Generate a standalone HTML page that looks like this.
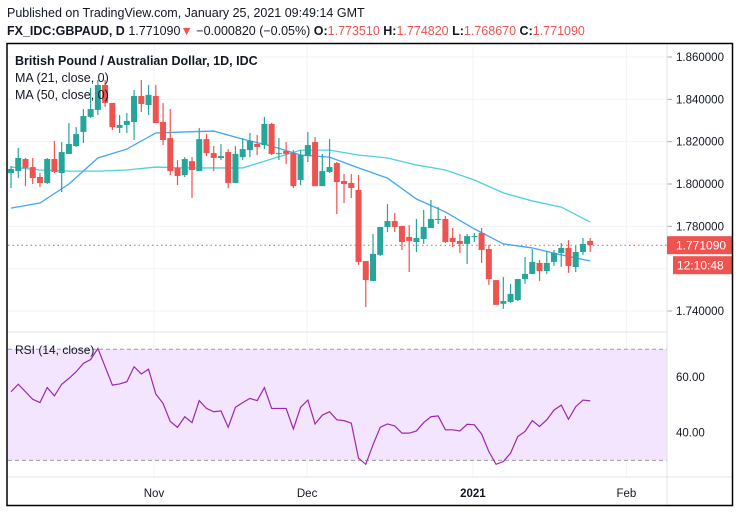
<!DOCTYPE html>
<html><head><meta charset="utf-8"><style>
html,body{margin:0;padding:0;background:#fff;}
body{width:739px;height:513px;overflow:hidden;font-family:"Liberation Sans",sans-serif;}
</style></head><body>
<svg id="chart" width="739" height="513" xmlns="http://www.w3.org/2000/svg" font-family="Liberation Sans, sans-serif">
<text x="7" y="17" font-size="12.5" fill="#131722">Published on TradingView.com, January 25, 2021 09:49:14 GMT</text>
<text x="7" y="35" font-size="12.5" fill="#131722"><tspan font-weight="bold">FX_IDC:GBPAUD, D</tspan> 1.771090<tspan fill="#ef5350">▼</tspan> −0.000820 (−0.05%) <tspan font-weight="bold">O:</tspan><tspan fill="#ef5350">1.773510</tspan> <tspan font-weight="bold">H:</tspan><tspan fill="#ef5350">1.774820</tspan> <tspan font-weight="bold">L:</tspan><tspan fill="#ef5350">1.768670</tspan> <tspan font-weight="bold">C:</tspan><tspan fill="#ef5350">1.771090</tspan></text>
<g id="grid"></g>
<rect id="rsiband" x="8" width="659" fill="#f3e5fd"/>
<g id="marks"></g>
<g id="axes"></g>
<text x="15" y="65" font-size="12.5" font-weight="bold" fill="#131722">British Pound / Australian Dollar, 1D, IDC</text>
<text x="15" y="82" font-size="12.5" fill="#131722">MA (21, close, 0)</text>
<text x="15" y="99" font-size="12.5" fill="#131722">MA (50, close, 0)</text>
<text x="15" y="354" font-size="12" fill="#131722">RSI (14, close)</text>
<rect x="7" y="43.5" width="725.5" height="462" fill="none" stroke="#000" stroke-width="1.5"/>
</svg>
<script>
const opens=[1.8052,1.8061,1.8118,1.8080,1.8033,1.8005,1.8118,1.8052,1.8142,1.8179,1.8246,1.8317,1.8350,1.8468,1.8383,1.8265,1.8279,1.8293,1.8416,1.8373,1.8416,1.8293,1.8217,1.8076,1.8042,1.8108,1.8061,1.8212,1.8146,1.8123,1.8151,1.8005,1.8127,1.8160,1.8189,1.8184,1.8284,1.8142,1.8156,1.8146,1.8019,1.8132,1.8198,1.7990,1.8057,1.8099,1.8014,1.8005,1.7972,1.7636,1.7542,1.7665,1.7797,1.7825,1.7802,1.7750,1.7726,1.7740,1.7792,1.7830,1.7835,1.7745,1.7731,1.7717,1.7750,1.7769,1.7693,1.7546,1.7434,1.7443,1.7452,1.7551,1.7575,1.7627,1.7589,1.7632,1.7674,1.7698,1.7608,1.7679,1.7731];
const highs=[1.8085,1.8170,1.8123,1.8123,1.8052,1.8123,1.8203,1.8198,1.8288,1.8269,1.8354,1.8454,1.8491,1.8491,1.8383,1.8326,1.8335,1.8444,1.8491,1.8468,1.8468,1.8383,1.8354,1.8113,1.8127,1.8127,1.8265,1.8236,1.8179,1.8189,1.8165,1.8179,1.8217,1.8241,1.8231,1.8317,1.8288,1.8217,1.8198,1.8160,1.8160,1.8246,1.8222,1.8142,1.8212,1.8104,1.8047,1.8047,1.8042,1.7636,1.7764,1.7797,1.7905,1.7863,1.7802,1.7806,1.7835,1.7877,1.7925,1.7891,1.7849,1.7792,1.7764,1.7764,1.7769,1.7792,1.7712,1.7546,1.7561,1.7528,1.7551,1.7655,1.7693,1.7641,1.7684,1.7688,1.7721,1.7735,1.7707,1.7745,1.7745];
const lows=[1.7981,1.8028,1.7990,1.8000,1.7986,1.8000,1.8052,1.7962,1.8142,1.8175,1.8194,1.8312,1.8326,1.8364,1.8255,1.8241,1.8241,1.8208,1.8340,1.8326,1.8288,1.8184,1.8042,1.7995,1.8033,1.7934,1.8061,1.8132,1.8061,1.8113,1.7981,1.8005,1.8113,1.8127,1.8137,1.8165,1.8137,1.8113,1.8094,1.7981,1.7995,1.8104,1.7990,1.7990,1.8052,1.7858,1.7910,1.7934,1.7618,1.7419,1.7542,1.7660,1.7773,1.7773,1.7688,1.7584,1.7679,1.7717,1.7792,1.7811,1.7721,1.7702,1.7674,1.7622,1.7726,1.7627,1.7523,1.7429,1.7410,1.7438,1.7447,1.7528,1.7575,1.7542,1.7575,1.7613,1.7608,1.7580,1.7584,1.7665,1.7679];
const closes=[1.8071,1.8123,1.8076,1.8028,1.8005,1.8118,1.8057,1.8151,1.8189,1.8236,1.8321,1.8354,1.8468,1.8383,1.8269,1.8279,1.8298,1.8416,1.8378,1.8421,1.8288,1.8208,1.8061,1.8038,1.8118,1.8066,1.8212,1.8146,1.8123,1.8132,1.8005,1.8142,1.8165,1.8203,1.8175,1.8284,1.8142,1.8146,1.8142,1.7990,1.8137,1.8184,1.7990,1.8061,1.8080,1.8009,1.8000,1.7981,1.7632,1.7546,1.7670,1.7797,1.7825,1.7797,1.7726,1.7731,1.7745,1.7797,1.7835,1.7835,1.7726,1.7726,1.7717,1.7754,1.7754,1.7688,1.7551,1.7429,1.7447,1.7481,1.7551,1.7575,1.7632,1.7589,1.7627,1.7674,1.7698,1.7613,1.7679,1.7717,1.7711];
const maIndex=[0,4,8,12,16,20,24,28,32,36,40,44,48,52,56,60,64,68,72,76,80];
const ma21=[1.7886,1.7910,1.8000,1.8123,1.8165,1.8241,1.8246,1.8250,1.8212,1.8179,1.8137,1.8127,1.8076,1.8028,1.7929,1.7868,1.7788,1.7717,1.7698,1.7665,1.7636];
const ma50=[1.8080,1.8066,1.8061,1.8061,1.8066,1.8080,1.8076,1.8076,1.8076,1.8118,1.8160,1.8160,1.8137,1.8123,1.8090,1.8066,1.8019,1.7958,1.7920,1.7891,1.7820];
const rsi=[54.7,57.4,54.7,52.0,50.8,56.2,53.2,57.4,59.5,61.9,64.9,66.3,70.3,63.7,57.1,57.5,58.3,63.7,61.1,62.8,53.9,50.5,44.0,41.9,45.7,43.6,51.5,48.7,47.5,47.8,41.9,49.1,50.8,52.3,51.5,56.2,48.7,48.7,48.7,41.3,49.1,51.7,43.1,46.3,47.5,44.6,44.3,43.4,30.8,28.6,35.6,41.9,43.1,42.4,39.8,39.8,40.6,43.6,45.7,46.0,41.0,41.0,40.6,43.0,42.8,39.5,33.2,28.6,29.6,32.6,38.6,40.4,44.3,42.2,44.6,48.1,49.9,44.8,49.3,51.7,51.4];
const priceTicks=["1.860000","1.840000","1.820000","1.800000","1.780000","1.740000"];
const rsiTicks=["60.00","40.00"];
const timeLabels=["Nov","Dec","2021","Feb"];
const timeIdx=[19.75,40.9,63.8,85.0];
const lastPrice="1.771090";
const countdown="12:10:48";

const NS="http://www.w3.org/2000/svg";
const X0=11, DX=7.24;
function xAt(i){return X0+i*DX;}
function yP(p){return 57+(1.86-p)*2116.7;}
function yR(r){return 377+(60-r)*2.78;}
function mk(tag,attrs,parent){const e=document.createElementNS(NS,tag);for(const k in attrs)e.setAttribute(k,attrs[k]);parent.appendChild(e);return e;}
const grid=document.getElementById('grid'),marks=document.getElementById('marks'),axes=document.getElementById('axes');
// price grid + labels
priceTicks.forEach(t=>{const y=yP(parseFloat(t));
 const l=mk('line',{x1:8,x2:667,y1:y,y2:y,stroke:'#f0f3fa','stroke-width':1},grid);
 
 const k=mk('line',{x1:667,x2:672,y1:y,y2:y,stroke:'#aaa'},axes);
 
 const tx=mk('text',{x:676,y:y+4,'font-size':11.5,fill:'#131722'},axes);tx.textContent=t;
 });
[1.76].forEach(p=>{const y=yP(p);const l=mk('line',{x1:8,x2:667,y1:y,y2:y,stroke:'#f0f3fa'},grid);
 });
// rsi band
const rb=document.getElementById('rsiband');rb.setAttribute('y',yR(70));rb.setAttribute('height',yR(30)-yR(70));
rsiTicks.forEach(t=>{const y=yR(parseFloat(t));
 const l=mk('line',{x1:8,x2:667,y1:y,y2:y,stroke:'#e6dcef'},grid);
 
 const tx=mk('text',{x:676,y:y+4,'font-size':11.5,fill:'#131722'},axes);tx.textContent=t;
 });
[70,30].forEach(v=>{const y=yR(v);const l=mk('line',{x1:8,x2:667,y1:y,y2:y,stroke:'#9e9e9e','stroke-dasharray':'4,3'},marks);
 });
// vertical grid + time labels
timeLabels.forEach((t,j)=>{const x=xAt(timeIdx[j]);
 const l=mk('line',{x1:x,x2:x,y1:44,y2:477,stroke:'#f0f3fa'},grid);
 
 const tx=mk('text',{x:x,y:497,'font-size':11.5,'text-anchor':'middle',fill:'#131722','font-weight':t==='2021'?'bold':'normal'},axes);tx.textContent=t;
 });
// separators
[[8,667,332,332],[8,733,477,477],[667,667,44,505]].forEach(s=>{const l=mk('line',{x1:s[0],x2:s[1],y1:s[2],y2:s[3],stroke:'#e0e3eb'},axes);
 });
// last price dotted line
const lp=mk('line',{x1:8,x2:667,y1:yP(parseFloat(lastPrice)),y2:yP(parseFloat(lastPrice)),stroke:'#ef5350','stroke-dasharray':'1.5,3'},marks);

// MAs
function poly(idx,vals,color,name){const pts=idx.map((i,k)=>xAt(i)+','+yP(vals[k])).join(' ');
 const p=mk('polyline',{points:pts,fill:'none',stroke:color,'stroke-width':1.3},marks);
 }
poly(maIndex,ma50,'#4dd0e1','ma50-line');
poly(maIndex,ma21,'#42a5f5','ma21-line');
// candles
opens.forEach((o,i)=>{const c=closes[i],up=c>=o,col=up?'#26a69a':'#ef5350',x=xAt(i);
 const g=mk('g',{},marks);
 mk('line',{x1:x,x2:x,y1:yP(highs[i]),y2:yP(lows[i]),stroke:col,'stroke-width':1.2},g);
 const top=yP(Math.max(o,c)),bot=yP(Math.min(o,c));
 mk('rect',{x:x-3,y:top,width:6,height:Math.max(1,bot-top),fill:col},g);});
// RSI
const rp=mk('polyline',{points:rsi.map((v,i)=>xAt(i)+','+yR(v)).join(' '),fill:'none',stroke:'#9c27b0','stroke-width':1.2},marks);

// price label boxes
const ly=yP(parseFloat(lastPrice));
const b1=mk('rect',{x:667,y:ly-9,width:66,height:18,fill:'#ef5350'},axes);

const t1=mk('text',{x:676,y:ly+4.5,'font-size':12,fill:'#fff'},axes);t1.textContent=lastPrice;

const b2=mk('rect',{x:673,y:ly+11,width:60,height:18,fill:'#ef5350'},axes);

const t2=mk('text',{x:677,y:ly+24.5,'font-size':12,fill:'#fff'},axes);t2.textContent=countdown;

</script>
</body></html>
